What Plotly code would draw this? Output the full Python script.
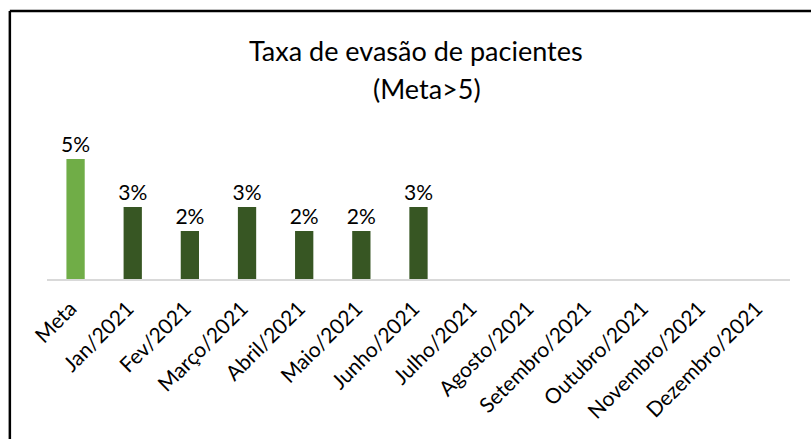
import plotly.graph_objects as go

categories = ["Meta", "Jan/2021", "Fev/2021", "Março/2021", "Abril/2021", "Maio/2021",
              "Junho/2021", "Julho/2021", "Agosto/2021", "Setembro/2021", "Outubro/2021",
              "Novembro/2021", "Dezembro/2021"]
values = [5, 3, 2, 3, 2, 2, 3, None, None, None, None, None, None]

META_COLOR = "#70AD47"
MONTH_COLOR = "#375623"
FONT = "Lato, Carlito, Calibri, sans-serif"

colors = [META_COLOR if c == "Meta" else MONTH_COLOR for c in categories]

trace = go.Bar(
    x=categories,
    y=values,
    marker=dict(color=colors, line=dict(width=0)),
    text=[f"{v}%" if v is not None else "" for v in values],
    textposition="outside",
    constraintext="none",
    cliponaxis=False,
    textfont=dict(family=FONT, size=21, color="#000000"),
    hoverinfo="x+y",
)

layout = go.Layout(
    width=811,
    height=439,
    margin=dict(l=47, r=21, t=135, b=160),
    paper_bgcolor="white",
    plot_bgcolor="white",
    showlegend=False,
    bargap=0.68,
    font=dict(family=FONT, color="#000000"),
    xaxis=dict(
        tickangle=-45,
        tickfont=dict(family=FONT, size=21, color="#000000"),
        ticklabelstandoff=7,
        ticklabelshift=-5,
        showline=True,
        linecolor="#D9D9D9",
        linewidth=2,
        ticks="",
        showgrid=False,
        automargin=False,
    ),
    yaxis=dict(
        range=[0, 6],
        visible=False,
        showgrid=False,
        zeroline=False,
    ),
    annotations=[
        dict(text="Taxa de evasão de pacientes", xref="paper", yref="paper",
             x=0.497, y=1.59, showarrow=False, xanchor="center", yanchor="middle",
             font=dict(family=FONT, size=27, color="#000000")),
        dict(text="(Meta>5)", xref="paper", yref="paper",
             x=0.511, y=1.326, showarrow=False, xanchor="center", yanchor="middle",
             font=dict(family=FONT, size=27, color="#000000")),
    ],
    shapes=[
        # frame (only top and left edges show in the crop)
        dict(type="line", xref="paper", yref="paper", x0=-0.05, x1=1.03, y0=1.861, y1=1.861,
             line=dict(color="#000000", width=2.5)),
        dict(type="line", xref="paper", yref="paper", x0=-0.05, x1=-0.05, y0=1.861, y1=-1.12,
             line=dict(color="#000000", width=2.5)),
    ],
)

fig = go.Figure(data=[trace], layout=layout)
fig.write_html("out.html", config={"displayModeBar": False},
               post_script="document.body.style.margin='0';")
